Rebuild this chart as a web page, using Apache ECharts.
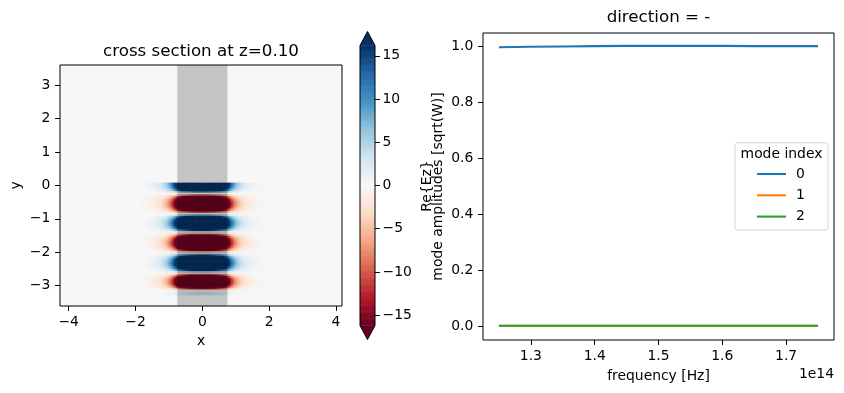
<!DOCTYPE html>
<html><head><meta charset="utf-8">
<script src="https://cdn.jsdelivr.net/npm/echarts@6/dist/echarts.min.js"></script>
<style>html,body{margin:0;padding:0;background:#fff}#c{width:844px;height:393px}</style>
</head><body><div id="c"></div><script>
// ---------------- data ----------------
// field grid (x positions, y positions) and profiles
const fieldX = [-1.80,-1.75,-1.70,-1.65,-1.60,-1.55,-1.50,-1.45,-1.40,-1.35,-1.30,-1.25,-1.20,-1.15,-1.10,-1.05,-1.00,-0.95,-0.90,-0.85,-0.80,-0.75,-0.70,-0.65,-0.60,-0.55,-0.50,-0.45,-0.40,-0.35,-0.30,-0.25,-0.20,-0.15,-0.10,-0.05,0.00,0.05,0.10,0.15,0.20,0.25,0.30,0.35,0.40,0.45,0.50,0.55,0.60,0.65,0.70,0.75,0.80,0.85,0.90,0.95,1.00,1.05,1.10,1.15,1.20,1.25,1.30,1.35,1.40,1.45,1.50,1.55,1.60,1.65,1.70,1.75,1.80];
const fieldXProfile = [0.006,0.008,0.010,0.013,0.016,0.019,0.024,0.029,0.035,0.043,0.052,0.064,0.078,0.095,0.115,0.14,0.17,0.21,0.26,0.32,0.40,0.49,0.56,0.62,0.68,0.73,0.78,0.82,0.86,0.89,0.92,0.94,0.96,0.98,0.99,1.00,1.00,1.00,0.99,0.98,0.96,0.94,0.92,0.89,0.86,0.82,0.78,0.73,0.68,0.62,0.56,0.49,0.40,0.32,0.26,0.21,0.17,0.14,0.115,0.095,0.078,0.064,0.052,0.043,0.035,0.029,0.024,0.019,0.016,0.013,0.010,0.008,0.006];
const fieldY = [0.10,0.05,0.00,-0.05,-0.10,-0.15,-0.20,-0.25,-0.30,-0.35,-0.40,-0.45,-0.50,-0.55,-0.60,-0.65,-0.70,-0.75,-0.80,-0.85,-0.90,-0.95,-1.00,-1.05,-1.10,-1.15,-1.20,-1.25,-1.30,-1.35,-1.40,-1.45,-1.50,-1.55,-1.60,-1.65,-1.70,-1.75,-1.80,-1.85,-1.90,-1.95,-2.00,-2.05,-2.10,-2.15,-2.20,-2.25,-2.30,-2.35,-2.40,-2.45,-2.50,-2.55,-2.60,-2.65,-2.70,-2.75,-2.80,-2.85,-2.90,-2.95,-3.00,-3.05,-3.10,-3.15,-3.20,-3.25,-3.30,-3.35,-3.40];
const fieldYProfile = [0,45,44,41,34,25,13,0,-11.5,-22,-31,-38.6,-43,-45,-44,-40,-33,-24,-14,-2,10,22,32,39,44,45,42,37,28,17,5,-7,-18,-28,-36,-42,-45,-45,-42,-36,-28,-18,-7,5,16,26,35,41,44,45,42,36,28,18,7,-5,-18,-29,-38,-43,-44,-42,-36,-27,-15,-3,3,5,2,0,0];
const bandX = [-0.75, 0.75];          // structure (gray band) extent in x
const colorMin = -16.2, colorMax = 16.2;
const heatXTicks = [-4, -2, 0, 2, 4];
const heatYTicks = [-3, -2, -1, 0, 1, 2, 3];
const cbarTicks = [-15, -10, -5, 0, 5, 10, 15];

const freq = [1.25,1.30,1.35,1.40,1.45,1.50,1.55,1.60,1.65,1.70,1.75];
const mode0 = [0.996,0.998,0.999,1.000,1.001,1.001,1.001,1.001,1.000,1.000,1.000];
const mode1 = [0.001,0.001,0.001,0.001,0.001,0.001,0.001,0.001,0.001,0.001,0.001];
const mode2 = [0.001,0.001,0.001,0.001,0.001,0.001,0.001,0.001,0.001,0.001,0.001];
const seriesNames = ['0', '1', '2'];
const freqTicks = [1.3, 1.4, 1.5, 1.6, 1.7];
const ampTicks = [0, 0.2, 0.4, 0.6, 0.8, 1.0];

// ---------------- build ----------------
const FONT = "'DejaVu Sans', sans-serif";
const FS = 13.9;
const RdBu = ['#67001f','#b2182b','#d6604d','#f4a582','#fddbc7','#f7f7f7','#d1e5f0','#92c5de','#4393c3','#2166ac','#053061'];
const minus = v => String(v).replace('-', '\u2212');

function edges(arr) {
  const e = [];
  for (let i = 0; i < arr.length; i++) {
    const lo = i > 0 ? (arr[i - 1] + arr[i]) / 2 : arr[i] - (arr[i + 1] - arr[i]) / 2;
    const hi = i < arr.length - 1 ? (arr[i] + arr[i + 1]) / 2 : arr[i] + (arr[i] - arr[i - 1]) / 2;
    e.push([lo, hi]);
  }
  return e;
}
const xe = edges(fieldX), ye = edges(fieldY);
const fieldData = [];
for (let j = 0; j < fieldY.length; j++) {
  for (let i = 0; i < fieldX.length; i++) {
    const v = fieldXProfile[i] * fieldYProfile[j];
    fieldData.push([fieldX[i], fieldY[j], v, xe[i][0], xe[i][1], Math.min(ye[j][0], ye[j][1]), Math.max(ye[j][0], ye[j][1])]);
  }
}
const cbarData = [];
const nLev = 240;
for (let k = 0; k < nLev; k++) {
  const a = colorMin + (colorMax - colorMin) * k / nLev;
  const b = colorMin + (colorMax - colorMin) * (k + 1) / nLev;
  cbarData.push([a, b, (a + b) / 2]);
}
const ext = 0.05 * (colorMax - colorMin);

const tickStyle = { show: true, length: 4.9, lineStyle: { color: '#000', width: 1 } };
const labStyle = { color: '#000', fontSize: FS, fontFamily: FONT, margin: 9.7 };
const noLine = { show: false, onZero: false };

const chart = echarts.init(document.getElementById('c'));
chart.setOption({
  animation: false,
  backgroundColor: '#fff',
  grid: [
    { left: 60, top: 65, width: 282, height: 241, show: true, borderColor: '#000', borderWidth: 1, backgroundColor: '#f7f7f7', containLabel: false },
    { left: 360, top: 45.5, width: 15, height: 280, show: false },
    { left: 483, top: 33, width: 351, height: 307, show: true, borderColor: '#000', borderWidth: 1, backgroundColor: '#fff' }
  ],
  xAxis: [
    { type: 'value', gridIndex: 0, position: 'bottom', min: -4.26, max: 4.18, axisLine: noLine, splitLine: { show: false },
      axisTick: Object.assign({ customValues: heatXTicks }, tickStyle),
      axisLabel: Object.assign({ customValues: heatXTicks, formatter: minus }, labStyle) },
    { type: 'value', gridIndex: 1, min: 0, max: 1, show: false, axisLine: noLine },
    { type: 'value', gridIndex: 2, position: 'bottom', min: 1.225, max: 1.775, axisLine: noLine, splitLine: { show: false },
      axisTick: Object.assign({ customValues: freqTicks }, tickStyle),
      axisLabel: Object.assign({ customValues: freqTicks, formatter: v => v.toFixed(1) }, labStyle) }
  ],
  yAxis: [
    { type: 'value', gridIndex: 0, position: 'left', min: -3.61, max: 3.61, axisLine: noLine, splitLine: { show: false },
      axisTick: Object.assign({ customValues: heatYTicks }, tickStyle),
      axisLabel: Object.assign({ customValues: heatYTicks, formatter: minus }, labStyle) },
    { type: 'value', gridIndex: 1, position: 'right', min: colorMin, max: colorMax, axisLine: noLine, splitLine: { show: false },
      axisTick: Object.assign({ customValues: cbarTicks }, tickStyle),
      axisLabel: Object.assign({ customValues: cbarTicks, formatter: minus }, labStyle, { margin: 7.5 }) },
    { type: 'value', gridIndex: 2, position: 'left', min: -0.05, max: 1.047, axisLine: noLine, splitLine: { show: false },
      axisTick: Object.assign({ customValues: ampTicks }, tickStyle),
      axisLabel: Object.assign({ customValues: ampTicks, formatter: v => v.toFixed(1) }, labStyle) }
  ],
  visualMap: {
    type: 'continuous', show: false, min: colorMin, max: colorMax, dimension: 2,
    seriesIndex: [0, 2], inRange: { color: RdBu }
  },
  legend: {
    orient: 'vertical', left: 757, top: 167, padding: 0, itemWidth: 29, itemHeight: 2.1, itemGap: 7.3,
    icon: 'rect', data: seriesNames, z: 6,
    textStyle: { fontSize: FS, fontFamily: FONT, color: '#000', lineHeight: 14, padding: [0, 0, 0, 5] }
  },
  series: [
    { type: 'custom', name: 'field', xAxisIndex: 0, yAxisIndex: 0, z: 2, silent: true, progressive: 0,
      data: fieldData,
      renderItem: function (params, api) {
        const p0 = api.coord([api.value(3), api.value(6)]);
        const p1 = api.coord([api.value(4), api.value(5)]);
        return { type: 'rect', shape: { x: p0[0] - 0.3, y: p0[1] - 0.3, width: p1[0] - p0[0] + 0.6, height: p1[1] - p0[1] + 0.6 },
          style: { fill: api.visual('color') } };
      } },
    { type: 'custom', name: 'structure', xAxisIndex: 0, yAxisIndex: 0, z: 3, silent: true,
      data: [[bandX[0], bandX[1]]],
      renderItem: function (params, api) {
        const a = api.coord([api.value(0), 0]);
        const b = api.coord([api.value(1), 0]);
        const cs = params.coordSys;
        return { type: 'rect', shape: { x: a[0], y: cs.y, width: b[0] - a[0], height: cs.height },
          style: { fill: 'rgba(0,0,0,0.2)' } };
      } },
    { type: 'custom', name: 'cbar', xAxisIndex: 1, yAxisIndex: 1, z: 2, silent: true,
      data: cbarData,
      renderItem: function (params, api) {
        const p0 = api.coord([0, api.value(1)]);
        const p1 = api.coord([1, api.value(0)]);
        return { type: 'rect', shape: { x: p0[0], y: p0[1] - 0.3, width: p1[0] - p0[0], height: p1[1] - p0[1] + 0.6 },
          style: { fill: api.visual('color') } };
      } },
    { type: 'custom', name: 'cbarEnds', xAxisIndex: 1, yAxisIndex: 1, z: 4, silent: true, clip: false,
      data: [[0, colorMin, colorMax]],
      renderItem: function (params, api) {
        const lo = api.value(1), hi = api.value(2);
        const tl = api.coord([0, hi]), tr = api.coord([1, hi]), tt = api.coord([0.5, hi + ext]);
        const bl = api.coord([0, lo]), br = api.coord([1, lo]), bt = api.coord([0.5, lo - ext]);
        return { type: 'group', children: [
          { type: 'polygon', shape: { points: [tl, tr, tt] }, style: { fill: RdBu[RdBu.length - 1] } },
          { type: 'polygon', shape: { points: [bl, br, bt] }, style: { fill: RdBu[0] } },
          { type: 'polygon', shape: { points: [bt, bl, tl, tt, tr, br] }, style: { fill: 'none', stroke: '#000', lineWidth: 1 } }
        ] };
      } },
    { type: 'line', name: seriesNames[0], xAxisIndex: 2, yAxisIndex: 2, symbol: 'none', z: 3,
      data: freq.map((f, i) => [f, mode0[i]]), lineStyle: { color: '#1f77b4', width: 2.08 }, itemStyle: { color: '#1f77b4' } },
    { type: 'line', name: seriesNames[1], xAxisIndex: 2, yAxisIndex: 2, symbol: 'none', z: 3,
      data: freq.map((f, i) => [f, mode1[i]]), lineStyle: { color: '#ff7f0e', width: 2.08 }, itemStyle: { color: '#ff7f0e' } },
    { type: 'line', name: seriesNames[2], xAxisIndex: 2, yAxisIndex: 2, symbol: 'none', z: 3,
      data: freq.map((f, i) => [f, mode2[i]]), lineStyle: { color: '#2ca02c', width: 2.08 }, itemStyle: { color: '#2ca02c' } }
  ],
  graphic: [
    { type: 'text', x: 201, y: 51.5, z: 10, style: { text: 'cross section at z=0.10', fontSize: 16.7, fontFamily: FONT, fill: '#000', align: 'center', verticalAlign: 'middle' } },
    { type: 'text', x: 658.5, y: 17.5, z: 10, style: { text: 'direction = -', fontSize: 16.7, fontFamily: FONT, fill: '#000', align: 'center', verticalAlign: 'middle' } },
    { type: 'text', x: 201, y: 341, z: 10, style: { text: 'x', fontSize: FS, fontFamily: FONT, fill: '#000', align: 'center', verticalAlign: 'middle' } },
    { type: 'text', x: 16, y: 185.5, rotation: Math.PI / 2, z: 10, style: { text: 'y', fontSize: FS, fontFamily: FONT, fill: '#000', align: 'center', verticalAlign: 'middle' } },
    { type: 'text', x: 658.5, y: 376, z: 10, style: { text: 'frequency [Hz]', fontSize: FS, fontFamily: FONT, fill: '#000', align: 'center', verticalAlign: 'middle' } },
    { type: 'text', x: 834, y: 374, z: 10, style: { text: '1e14', fontSize: FS, fontFamily: FONT, fill: '#000', align: 'right', verticalAlign: 'middle' } },
    { type: 'text', x: 427, y: 186, rotation: Math.PI / 2, z: 10, style: { text: 'Re{Ez}', fontSize: FS, fontFamily: FONT, fill: '#000', align: 'center', verticalAlign: 'middle' } },
    { type: 'text', x: 438, y: 186.5, rotation: Math.PI / 2, z: 10, style: { text: 'mode amplitudes [sqrt(W)]', fontSize: FS, fontFamily: FONT, fill: '#000', align: 'center', verticalAlign: 'middle' } },
    { type: 'rect', z: 5, shape: { x: 735, y: 142.7, width: 93, height: 87.3, r: 3 }, style: { fill: 'rgba(255,255,255,0.8)', stroke: '#d6d6d6', lineWidth: 1 } },
    { type: 'text', x: 781.5, y: 154, z: 10, style: { text: 'mode index', fontSize: FS, fontFamily: FONT, fill: '#000', align: 'center', verticalAlign: 'middle' } }
  ]
});
</script></body></html>
